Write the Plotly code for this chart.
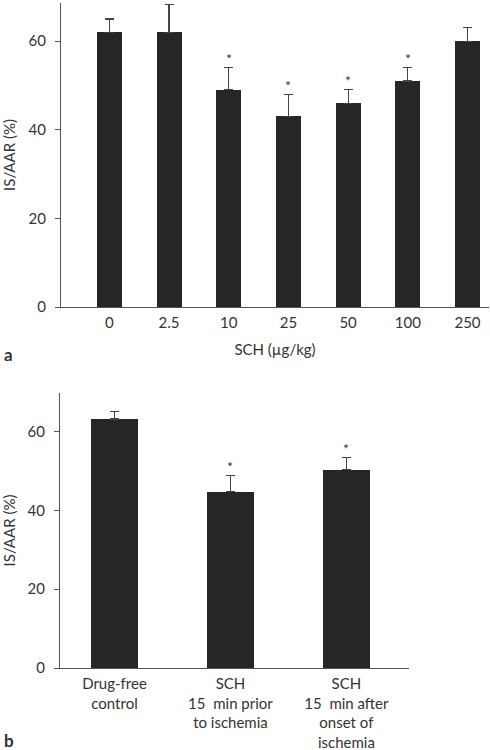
import plotly.graph_objects as go

# Panel a data
doses = ["0", "2.5", "10", "25", "50", "100", "250"]
ratio_a = [62.0, 62.0, 49.0, 43.0, 46.0, 51.0, 60.0]
err_a = [3.0, 6.2, 5.0, 5.0, 3.0, 3.0, 3.0]
sig_a = [False, False, True, True, True, True, False]

# Panel b data
groups = ["Drug-free<br>control", "SCH<br>15  min prior<br>to ischemia", "SCH<br>15  min after<br>onset of<br>ischemia"]
ratio_b = [63.2, 44.8, 50.3]
err_b = [1.9, 4.1, 3.2]
sig_b = [False, True, True]

yticks = [0, 20, 40, 60]

FONT = "Lato"
TXT = "#333333"
AX = "#555555"
BAR = "#262626"

fig = go.Figure()
fig.add_trace(go.Bar(x=list(range(len(doses))), y=ratio_a, width=0.42, marker=dict(color=BAR, line=dict(width=0)),
                     error_y=dict(type="data", array=err_a, arrayminus=[0]*len(err_a), symmetric=False,
                                  color="#444444", thickness=1.2, width=4.5),
                     xaxis="x", yaxis="y", showlegend=False))
fig.add_trace(go.Bar(x=list(range(len(groups))), y=ratio_b, width=0.40, marker=dict(color=BAR, line=dict(width=0)),
                     error_y=dict(type="data", array=err_b, arrayminus=[0]*len(err_b), symmetric=False,
                                  color="#444444", thickness=1.2, width=4.5),
                     xaxis="x2", yaxis="y2", showlegend=False))

annotations = []
for i, s in enumerate(sig_a):
    if s:
        annotations.append(dict(x=i, y=ratio_a[i] + err_a[i], xref="x", yref="y", text="*", showarrow=False,
                                yshift=9, font=dict(family=FONT, size=14, color=TXT)))
for i, s in enumerate(sig_b):
    if s:
        annotations.append(dict(x=i, y=ratio_b[i] + err_b[i], xref="x2", yref="y2", text="*", showarrow=False,
                                yshift=9, font=dict(family=FONT, size=14, color=TXT)))

annotations.append(dict(x=2/490, y=1 - 354/750, xref="paper", yref="paper", text="<b>a</b>", showarrow=False,
                        font=dict(family=FONT, size=17, color=TXT), xanchor="left", yanchor="middle"))
annotations.append(dict(x=2/490, y=1 - 740/750, xref="paper", yref="paper", text="<b>b</b>", showarrow=False,
                        font=dict(family=FONT, size=17, color=TXT), xanchor="left", yanchor="middle"))

axis_common = dict(showline=True, linecolor=AX, linewidth=1, showgrid=False, zeroline=False,
                   tickfont=dict(family=FONT, size=15, color=TXT), automargin=False)

fig.update_layout(
    width=490, height=750,
    margin=dict(l=0, r=0, t=0, b=0),
    paper_bgcolor="white", plot_bgcolor="white",
    font=dict(family=FONT, color=TXT),
    bargap=0,
    xaxis=dict(domain=[61/490, 489/490], anchor="y", range=[-0.81, 6.36],
               tickvals=list(range(len(doses))), ticktext=doses, ticks="", ticklabelstandoff=2, **axis_common,
               title=dict(text="SCH (µg/kg)", font=dict(family=FONT, size=15, color=TXT), standoff=14)),
    yaxis=dict(domain=[1 - 307/750, 1 - 3/750], anchor="x", range=[0, 68.6], tickvals=yticks,
               ticks="outside", ticklen=5, tickcolor=AX, ticklabelstandoff=6, **axis_common,
               title=dict(text="IS/AAR (%)", font=dict(family=FONT, size=15, color=TXT), standoff=10)),
    xaxis2=dict(domain=[60/490, 409/490], anchor="y2", range=[-0.47, 2.54],
                tickvals=list(range(len(groups))), ticktext=groups, ticks="", ticklabelstandoff=2, **axis_common),
    yaxis2=dict(domain=[1 - 668/750, 1 - 393/750], anchor="x2", range=[0, 69.8], tickvals=yticks,
                ticks="outside", ticklen=5, tickcolor=AX, ticklabelstandoff=6, **axis_common,
                title=dict(text="IS/AAR (%)", font=dict(family=FONT, size=15, color=TXT), standoff=10)),
    annotations=annotations,
)

fig.write_html("out.html", config={"displayModeBar": False},
               post_script="document.body.style.margin='0';document.body.style.overflow='hidden';")
